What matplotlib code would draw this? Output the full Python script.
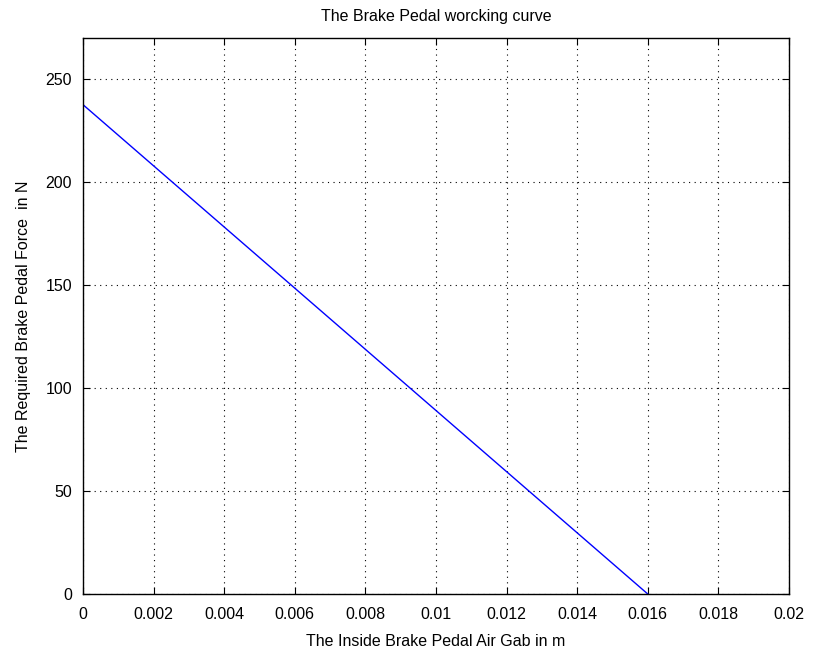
import matplotlib.pyplot as plt

plt.rcParams['font.family'] = ['Liberation Sans', 'DejaVu Sans']

gap = [0.0, 0.016]
force = [237.5, 0.0]
xticks = [0, 0.002, 0.004, 0.006, 0.008, 0.01, 0.012, 0.014, 0.016, 0.018, 0.02]
xlabels = ["0", "0.002", "0.004", "0.006", "0.008", "0.01", "0.012", "0.014", "0.016", "0.018", "0.02"]
yticks = [0, 50, 100, 150, 200, 250]

fig = plt.figure(figsize=(8.17, 6.56), dpi=100)
ax = fig.add_axes([0.1016, 0.0945, 0.8641, 0.848])
ax.plot(gap, force, color=(0, 0, 1), lw=1)
ax.set_xlim(0, 0.02)
ax.set_ylim(0, 270)
ax.set_xticks(xticks)
ax.set_xticklabels(xlabels)
ax.set_yticks(yticks)
ax.grid(True, color="black", linestyle=(0, (1, 4)), lw=0.8)
ax.tick_params(direction="in", top=True, right=True, length=5, labelsize=11.5)
ax.tick_params(axis="x", pad=9)
ax.tick_params(axis="y", pad=8)
for s in ax.spines.values():
    s.set_linewidth(1)
ax.set_xlabel("The Inside Brake Pedal Air Gab in m", fontsize=11.5, labelpad=9)
ax.set_ylabel("The Required Brake Pedal Force  in N", fontsize=11.5, labelpad=10)
ax.set_title("The Brake Pedal worcking curve", fontsize=11.5, pad=12)
fig.savefig("out.png", dpi=100)
